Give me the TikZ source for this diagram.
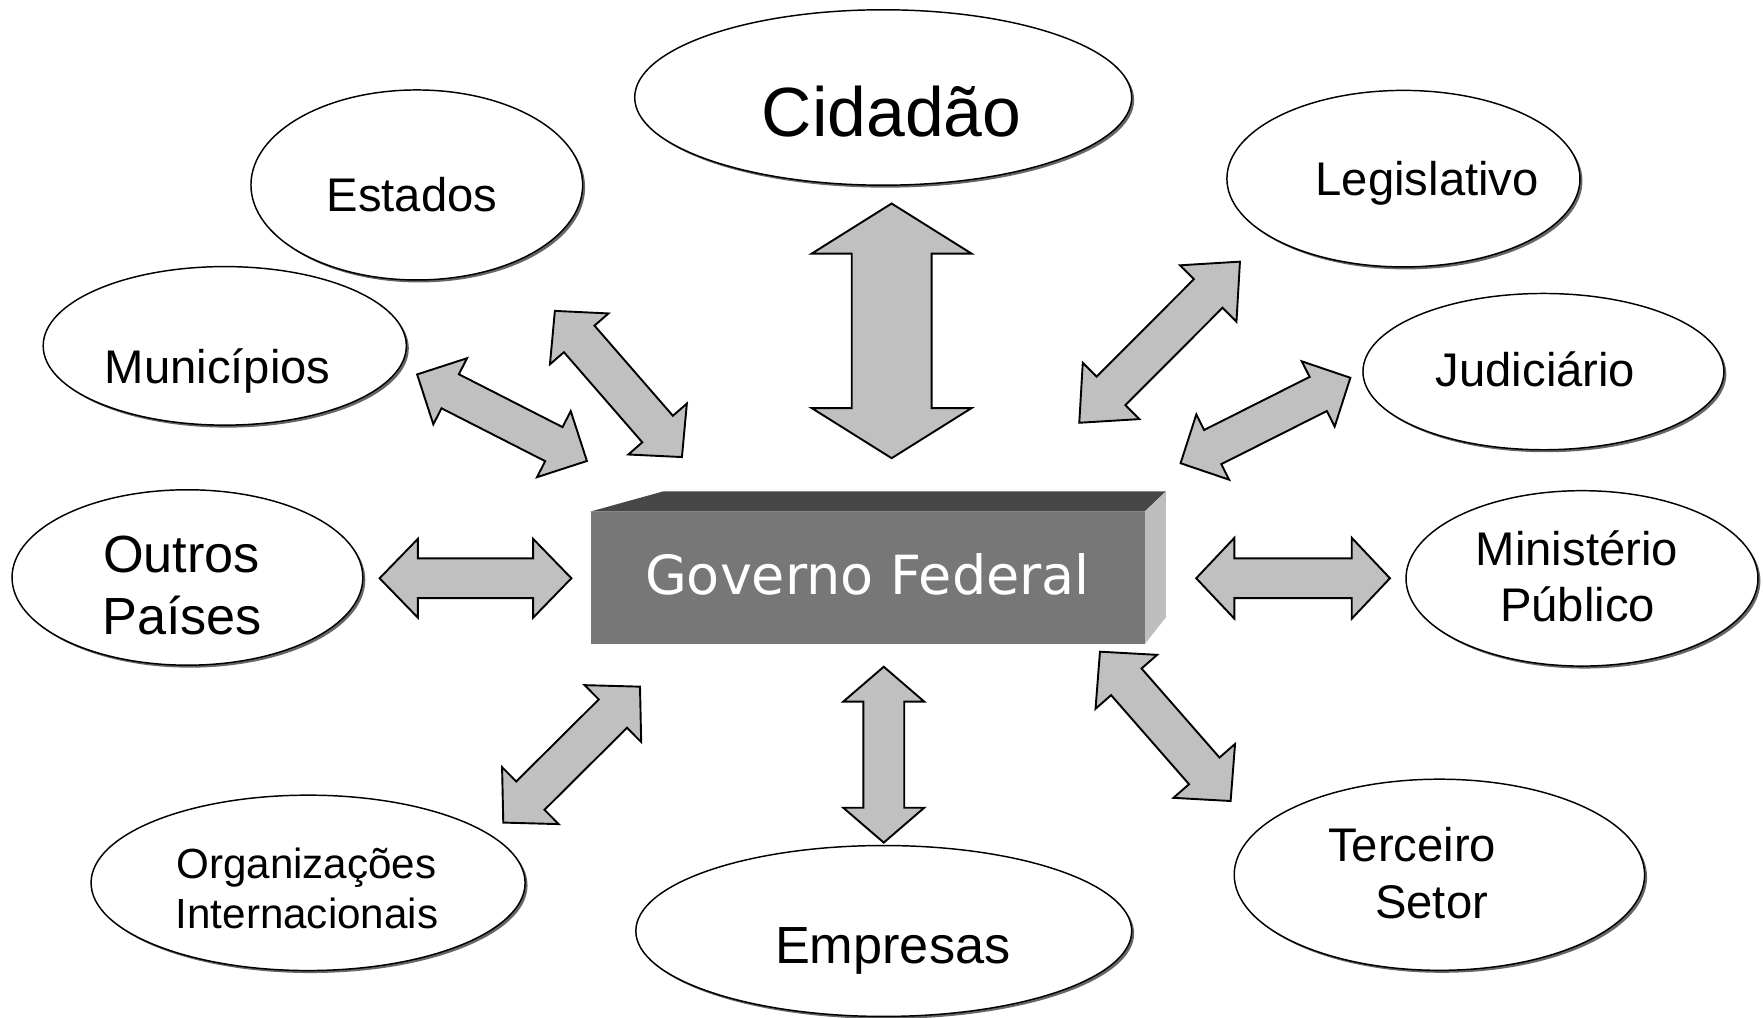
\documentclass[tikz,border=0pt]{standalone}
\usepackage{fontspec}
\setmainfont{Liberation Sans}
\newfontfamily\dejavu{DejaVu Sans}
\usetikzlibrary{calc,shadows,shapes.geometric}
\definecolor{arrowgray}{HTML}{C0C0C0}
\definecolor{boxfront}{HTML}{777777}
\definecolor{boxtop}{HTML}{474747}
\definecolor{boxside}{HTML}{BEBEBE}
\tikzset{
  bubble/.style={ellipse, draw, line width=1.3pt, fill=white, inner sep=0pt,
    drop shadow={shadow xshift=2.2pt, shadow yshift=-2.2pt, fill=black!60, opacity=1}},
  lbl/.style={anchor=base, inner sep=0pt, font=\fontsize{42}{50}\selectfont},
  lblbig/.style={lbl, font=\fontsize{46.5}{55}\selectfont},
  lblsmall/.style={lbl, font=\fontsize{37.5}{45}\selectfont},
  lblhuge/.style={lbl, font=\fontsize{62}{70}\selectfont},
  govlbl/.style={anchor=base, inner sep=0pt, text=white, font=\dejavu\fontsize{48}{56}\selectfont},
  arrowfill/.style={fill=arrowgray, draw=black, line width=1.7pt, line join=miter},
}
% #1 tip A, #2 tip B, #3 half shaft width, #4 half head width, #5 head length
\newcommand\dblarr[5]{%
  \coordinate (da1) at ($(#1)!#5!(#2)$);
  \coordinate (da2) at ($(#2)!#5!(#1)$);
  \filldraw[arrowfill] (#1) -- ($(da1)!#4!90:(#2)$) -- ($(da1)!#3!90:(#2)$)
    -- ($(da2)!#3!-90:(#1)$) -- ($(da2)!#4!-90:(#1)$) -- (#2)
    -- ($(da2)!#4!90:(#1)$) -- ($(da2)!#3!90:(#1)$)
    -- ($(da1)!#3!-90:(#2)$) -- ($(da1)!#4!-90:(#2)$) -- cycle;
}
\begin{document}
\begin{tikzpicture}[x=1pt,y=-1pt]
\useasboundingbox (0,0) rectangle (1568,905);

% ellipses
\node[bubble, minimum width=442pt, minimum height=156pt] (cid) at (785.5,86.7) {};
\node[bubble, minimum width=295pt, minimum height=169pt] (est) at (370.7,164.5) {};
\node[bubble, minimum width=323pt, minimum height=141pt] (mun) at (199.9,307.6) {};
\node[bubble, minimum width=312pt, minimum height=156pt] (out) at (166.7,513.6) {};
\node[bubble, minimum width=386pt, minimum height=156pt] (org) at (274,785.2) {};
\node[bubble, minimum width=441pt, minimum height=152pt] (emp) at (786,828) {};
\node[bubble, minimum width=365pt, minimum height=170pt] (ter) at (1280.2,778) {};
\node[bubble, minimum width=313pt, minimum height=156pt] (min) at (1407,514.4) {};
\node[bubble, minimum width=321pt, minimum height=139pt] (jud) at (1372.7,330.5) {};
\node[bubble, minimum width=314pt, minimum height=157pt] (leg) at (1248.2,158.9) {};

% labels
\node[lblhuge] (tcid) at (793,121) {Cidadão};
\node[lbl] (test) at (366.3,188.5) {Estados};
\node[lbl] (tmun) at (193.5,341.5) {Municípios};
\node[lblbig] (tout1) at (161.5,509) {Outros};
\node[lblbig] (tout2) at (162,564) {Países};
\node[lblsmall] (torg1) at (272.5,781.5) {Organizações};
\node[lblsmall] (torg2) at (273,825.5) {Internacionais};
\node[lblbig] (temp) at (794,857) {Empresas};
\node[lbl] (tter1) at (1256,766.3) {Terceiro};
\node[lbl] (tter2) at (1273.3,816.7) {Setor};
\node[lbl] (tmin1) at (1402.5,502.5) {Ministério};
\node[lbl] (tmin2) at (1403,553) {Público};
\node[lbl] (tjud) at (1365.7,344) {Judiciário};
\node[lbl] (tleg) at (1269.4,173.5) {Legislativo};

% central box
\fill[boxtop] (525,455) -- (590,437) -- (1037,437) -- (1018,455) -- cycle;
\fill[boxside] (1018,455) -- (1037,437) -- (1037,549) -- (1018,573) -- cycle;
\node[fill=boxfront, minimum width=493pt, minimum height=118pt, inner sep=0pt, anchor=north west] (gov) at (525,455) {};
\node[govlbl] (tgov) at (771.5,529) {Governo Federal};

% arrow end points
\coordinate (cidA) at (793,181);     \coordinate (cidB) at (793,407.5);
\coordinate (empA) at (786,593);     \coordinate (empB) at (786,749.4);
\coordinate (outA) at (337.6,514.3); \coordinate (outB) at (508.2,514.3);
\coordinate (minA) at (1063.9,514.3);\coordinate (minB) at (1236.2,514.3);
\coordinate (munA) at (371,333);     \coordinate (munB) at (522,410);
\coordinate (estA) at (493.5,276.5); \coordinate (estB) at (606.5,406.5);
\coordinate (legA) at (1102.8,232.7);\coordinate (legB) at (959.9,376);
\coordinate (judA) at (1201,336);    \coordinate (judB) at (1050,412);
\coordinate (orgA) at (569.2,610.7); \coordinate (orgB) at (447.6,731.6);
\coordinate (terA) at (978.3,579.6); \coordinate (terB) at (1094.5,712.4);

% arrows
\dblarr{cidA}{cidB}{35.5pt}{71pt}{44.5pt}
\dblarr{empA}{empB}{18.2pt}{36pt}{31pt}
\dblarr{outA}{outB}{17.7pt}{35pt}{34pt}
\dblarr{minA}{minB}{17.7pt}{36pt}{34pt}
\dblarr{munA}{munB}{17pt}{33pt}{33pt}
\dblarr{estA}{estB}{18pt}{34.5pt}{33pt}
\dblarr{legA}{legB}{18pt}{35.5pt}{40pt}
\dblarr{judA}{judB}{17pt}{32.5pt}{32pt}
\dblarr{orgA}{orgB}{17.8pt}{35.7pt}{34pt}
\dblarr{terA}{terB}{18pt}{36.4pt}{35.6pt}
\end{tikzpicture}
\end{document}
